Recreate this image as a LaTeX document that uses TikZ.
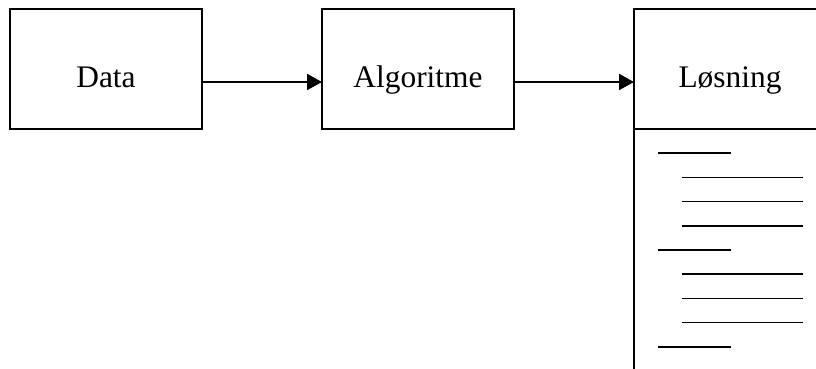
\documentclass[tikz,border=0pt]{standalone}
\usepackage{fontspec}
\setmainfont{Liberation Serif}
\usetikzlibrary{arrows.meta, positioning}

\begin{document}
\begin{tikzpicture}[x=1pt, y=1pt, line width=1.8pt,
    stage/.style={rectangle, draw=black, minimum width=192pt, minimum height=120pt,
        inner sep=0pt, outer sep=0pt, text height=36pt, text depth=0pt,
        font=\fontsize{31.4}{36}\selectfont},
    flow/.style={-{Triangle[length=15pt, width=16pt]}},
    rule/.style={line width=1.7pt}
]
\path[use as bounding box, clip] (0,0) rectangle (816,368);

% Stages
\node[stage] (data) at (106,299) {Data};
\node[stage] (algo) at (418,299) {Algoritme};
\node[stage] (losning) at (730,299) {Løsning};
\node[stage, minimum height=260pt, below=0pt of losning] (losbody) {};

% Arrows
\draw[flow] ([yshift=5pt]data.base east) -- ([yshift=5pt]algo.base west);
\draw[flow] ([yshift=5pt]algo.base east) -- ([yshift=5pt]losning.base west);

% Text lines in the solution
\foreach \i in {1,...,9} {
    \ifnum\i=1 \def\short{1}\else\ifnum\i=5 \def\short{1}\else\ifnum\i=9 \def\short{1}\else\def\short{0}\fi\fi\fi
    \ifnum\short=1
        \draw[rule] ([shift={(24,-\i*24.2)}]losbody.north west) -- ++(73,0);
    \else
        \draw[rule] ([shift={(48,-\i*24.2)}]losbody.north west) -- ++(121,0);
    \fi
}
\end{tikzpicture}
\end{document}
